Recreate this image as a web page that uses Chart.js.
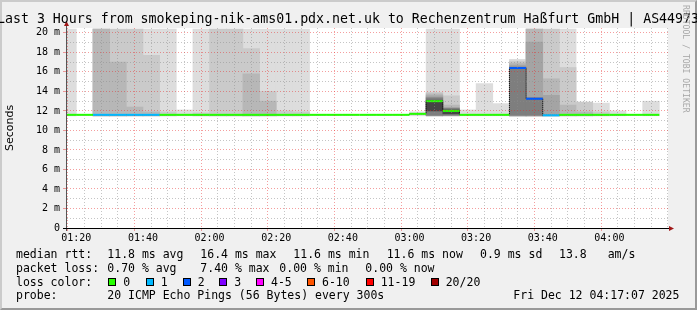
<!DOCTYPE html>
<html lang="en">
<head>
<meta charset="UTF-8">
<title>smokeping - Last 3 Hours</title>
<script src="https://cdn.jsdelivr.net/npm/chart.js@4.4.1/dist/chart.umd.min.js"></script>
<style>
    html, body {
        margin: 0;
        padding: 0;
    }
    body {
        position: relative;
        width: 697px;
        height: 310px;
        overflow: hidden;
        background: #f0f0f0;
        font-family: 'DejaVu Sans Mono', monospace;
        color: #000;
    }
    .frame {
        position: absolute;
        left: 0;
        top: 0;
        width: 697px;
        height: 310px;
        box-sizing: border-box;
        border: 2px solid;
        border-color: #cbcbcb #999 #999 #cbcbcb;
    }
    #chart {
        position: absolute;
        left: 0;
        top: 0;
    }
    .title {
        position: absolute;
        top: 10.5px;
        left: 348px;
        transform: translateX(-50%);
        white-space: nowrap;
        font-size: 13.25px;
        line-height: 16px;
    }
    .vendor {
        position: absolute;
        left: 690px;
        top: 5px;
        transform-origin: 0 0;
        transform: rotate(90deg);
        white-space: nowrap;
        font-size: 8.15px;
        line-height: 9px;
        color: #a8a8a8;
    }
    .leg {
        position: absolute;
        white-space: pre;
        font-size: 11.5px;
        line-height: 14px;
    }
    .box {
        position: absolute;
        width: 6px;
        height: 6px;
        border: 1px solid #000;
    }
</style>
</head>
<body>
<div class="frame"></div>
<canvas id="chart" width="697" height="310"></canvas>
<div class="title">Last 3 Hours from smokeping-nik-ams01.pdx.net.uk to Rechenzentrum Haßfurt GmbH | AS44973</div>
<div class="vendor">RRDTOOL / TOBI OETIKER</div>

<span class="leg" style="left:16px;top:247px">median rtt:</span>
<span class="leg" style="left:107.3px;top:247px">11.8 ms avg</span>
<span class="leg" style="left:200.3px;top:247px">16.4 ms max</span>
<span class="leg" style="left:293.3px;top:247px">11.6 ms min</span>
<span class="leg" style="left:386.7px;top:247px">11.6 ms now</span>
<span class="leg" style="left:480px;top:247px">0.9 ms sd</span>
<span class="leg" style="left:559px;top:247px">13.8</span>
<span class="leg" style="left:607.7px;top:247px">am/s</span>

<span class="leg" style="left:16px;top:260.7px">packet loss:</span>
<span class="leg" style="left:107.3px;top:260.7px">0.70 % avg</span>
<span class="leg" style="left:200.3px;top:260.7px">7.40 % max</span>
<span class="leg" style="left:279.3px;top:260.7px">0.00 % min</span>
<span class="leg" style="left:365.3px;top:260.7px">0.00 % now</span>

<span class="leg" style="left:16px;top:274.5px">loss color:</span>
<div id="losslegend"></div>

<span class="leg" style="left:16px;top:288.2px">probe:</span>
<span class="leg" style="left:107.3px;top:288.2px">20 ICMP Echo Pings (56 Bytes) every 300s</span>
<span class="leg" style="left:513.3px;top:288.2px">Fri Dec 12 04:17:07 2025</span>

<script>
    // 5 minute steps (start of each step)
    const slots = ['01:15', '01:20', '01:25', '01:30', '01:35', '01:40', '01:45', '01:50', '01:55',
                   '02:00', '02:05', '02:10', '02:15', '02:20', '02:25', '02:30', '02:35', '02:40',
                   '02:45', '02:50', '02:55', '03:00', '03:05', '03:10', '03:15', '03:20', '03:25',
                   '03:30', '03:35', '03:40', '03:45', '03:50', '03:55', '04:00', '04:05', '04:10'];

    // median rtt in ms
    const median = [11.6, 11.6, 11.6, 11.6, 11.6, 11.6, 11.6, 11.6, 11.6,
                    11.6, 11.6, 11.6, 11.6, 11.6, 11.6, 11.6, 11.6, 11.6,
                    11.6, 11.6, 11.6, 11.7, 13.0, 12.0, 11.6, 11.6, 11.6,
                    16.4, 13.25, 11.55, 11.6, 11.6, 11.6, 11.6, 11.6, 11.6];

    // lost pings out of 20
    const loss = [0, 0, 1, 1, 1, 1, 0, 0, 0,
                  0, 0, 0, 0, 0, 0, 0, 0, 0,
                  0, 0, 0, 0, 0, 0, 0, 0, 0,
                  2, 2, 1, 0, 0, 0, 0, 0, 0];

    // smoke: fastest ping, then top of each grey band (outer -> inner)
    const smokeFloor = 11.5;
    const smoke1 = [20.4, null, 20.4, 20.4, 20.4, 20.4, 20.4, 12.1, 20.4,
                    20.4, 20.4, 20.4, 20.4, 20.4, 20.4, null, null, null,
                    null, null, null, 11.9, 20.4, 20.4, 12.1, 14.8, 12.75,
                    17.3, 20.4, 20.4, 20.4, 12.9, 12.8, 12.0, null, 13.0];
    const smoke2 = [null, null, 20.4, 20.4, 20.4, 17.7, 11.9, null, 11.8,
                    20.4, 20.4, 18.4, 14.0, 12.0, 11.9, null, null, null,
                    null, null, null, null, 13.9, 13.55, null, null, null,
                    17.1, 20.4, 20.4, 16.45, 12.9, 11.9, null, null, null];
    const smoke3 = [null, null, 20.4, 17.0, 12.4, 11.9, null, null, null,
                    null, null, 15.8, 13.0, null, null, null, null, null,
                    null, null, null, null, 13.75, 12.6, null, null, null,
                    16.9, 20.4, 15.3, 12.6, 11.9, null, null, null, null];
    const smoke4 = [null, null, null, null, null, null, null, null, null,
                    null, null, null, null, null, null, null, null, null,
                    null, null, null, null, 13.55, null, null, null, null,
                    16.7, 19.05, 13.6, null, null, null, null, null, null];
    // dark inner bands around the median (low / high)
    const darkLow  = {22: 11.55, 23: 11.55, 27: 11.55, 28: 11.55};
    const darkHigh = {22: 13.35, 23: 12.3, 27: 16.5, 28: 13.35};
    const coreLow  = {22: 12.0, 23: 11.7};
    const coreHigh = {22: 13.1, 23: 12.1};

    const lossLabels = ['0', '1', '2', '3', '4-5', '6-10', '11-19', '20/20'];
    const lossColors = ['#26ff00', '#00b8ff', '#0059ff', '#7e00ff', '#ff00ff', '#ff5500', '#ff0000', '#a10000'];
    const lossBoxX = [108.3, 145.7, 182.7, 219.3, 256, 307, 365.7, 430.7];

    const MAJOR = 'rgba(230, 40, 40, 0.45)';
    const MINOR = 'rgba(140, 140, 140, 0.5)';

    const toMin = s => Number(s.slice(0, 2)) * 60 + Number(s.slice(3));
    const fmt = v => String(Math.floor(v / 60)).padStart(2, '0') + ':' + String(v % 60).padStart(2, '0');

    function lossColor(n) {
        if (n <= 3) return lossColors[n];
        if (n <= 5) return lossColors[4];
        if (n <= 10) return lossColors[5];
        if (n <= 19) return lossColors[6];
        return lossColors[7];
    }

    // legend for loss colours
    const lossLegend = document.getElementById('losslegend');
    lossLabels.forEach((label, i) => {
        const box = document.createElement('div');
        box.className = 'box';
        box.style.left = lossBoxX[i] + 'px';
        box.style.top = '278.3px';
        box.style.background = lossColors[i];
        lossLegend.appendChild(box);
        const txt = document.createElement('span');
        txt.className = 'leg';
        txt.style.left = (lossBoxX[i] + 15) + 'px';
        txt.style.top = '274.5px';
        txt.textContent = label;
        lossLegend.appendChild(txt);
    });

    function band(lows, highs, color, order) {
        const pts = [];
        slots.forEach((s, i) => {
            if (highs[i] == null) return;
            const lo = lows ? lows[i] : smokeFloor;
            pts.push({x: toMin(s) + 2.5, y: [lo, highs[i]]});
        });
        return {
            type: 'bar',
            data: pts,
            backgroundColor: color,
            borderWidth: 0,
            grouped: false,
            barPercentage: 1,
            categoryPercentage: 1,
            order: order
        };
    }

    // median drawn as separate horizontal pieces, coloured by loss
    const medianPts = [];
    slots.forEach((s, i) => {
        const t = toMin(s);
        medianPts.push({x: t, y: median[i]}, {x: t + 5, y: median[i]}, {x: t + 5, y: null});
    });
    // thin dotted step line joining the medians
    const stepPts = slots.map((s, i) => ({x: toMin(s), y: median[i]}));
    stepPts.push({x: toMin(slots[slots.length - 1]) + 5, y: median[median.length - 1]});

    const axisPlugin = {
        id: 'axisPlugin',
        beforeDraw(chart) {
            const {ctx, chartArea: a} = chart;
            ctx.save();
            ctx.fillStyle = '#fff';
            ctx.fillRect(a.left, a.top, a.right - a.left, a.bottom - a.top);
            ctx.restore();
        },
        afterDraw(chart) {
            const {ctx, chartArea: a} = chart;
            ctx.save();
            ctx.lineWidth = 1;
            ctx.strokeStyle = '#555';
            ctx.beginPath();
            ctx.moveTo(a.left - 0.5, a.bottom + 3);
            ctx.lineTo(a.left - 0.5, a.top - 4);
            ctx.stroke();
            ctx.strokeStyle = '#000';
            ctx.beginPath();
            ctx.moveTo(a.left - 4, a.bottom + 0.5);
            ctx.lineTo(a.right + 2, a.bottom + 0.5);
            ctx.stroke();
            ctx.fillStyle = '#a01818';
            ctx.beginPath();
            ctx.moveTo(a.left - 3, a.top - 2);
            ctx.lineTo(a.left + 2, a.top - 2);
            ctx.lineTo(a.left - 0.5, a.top - 7);
            ctx.closePath();
            ctx.fill();
            ctx.beginPath();
            ctx.moveTo(a.right + 1, a.bottom - 2);
            ctx.lineTo(a.right + 1, a.bottom + 3);
            ctx.lineTo(a.right + 6, a.bottom + 0.5);
            ctx.closePath();
            ctx.fill();
            ctx.restore();
        }
    };

    const tickFont = {family: 'DejaVu Sans Mono', size: 10};

    new Chart(document.getElementById('chart'), {
        type: 'bar',
        data: {
            datasets: [
                {
                    type: 'line',
                    data: medianPts,
                    borderColor: lossColors[0],
                    borderWidth: 2,
                    borderCapStyle: 'butt',
                    pointRadius: 0,
                    spanGaps: false,
                    segment: {
                        borderColor: c => lossColor(loss[Math.floor(c.p0DataIndex / 3)])
                    },
                    order: 0
                },
                {
                    type: 'line',
                    data: stepPts,
                    stepped: 'before',
                    borderColor: '#000',
                    borderWidth: 1,
                    borderDash: [1, 1],
                    pointRadius: 0,
                    order: 1
                },
                band(coreLow, coreHigh, '#454545', 2),
                band(darkLow, darkHigh, '#7e7e7e', 3),
                band(null, smoke4, '#a4a4a4', 4),
                band(null, smoke3, '#b7b7b7', 5),
                band(null, smoke2, '#cacaca', 6),
                band(null, smoke1, '#dddddd', 7)
            ]
        },
        options: {
            responsive: false,
            devicePixelRatio: 1,
            animation: false,
            events: [],
            layout: {
                padding: {left: 0, right: 29, top: 28, bottom: 62}
            },
            plugins: {
                legend: {display: false},
                tooltip: {enabled: false}
            },
            scales: {
                x: {
                    type: 'linear',
                    min: 77.2,
                    max: 257.6,
                    offset: false,
                    afterFit: s => { s.height = 20; },
                    ticks: {
                        stepSize: 5,
                        maxTicksLimit: 100,
                        autoSkip: false,
                        includeBounds: false,
                        maxRotation: 0,
                        padding: 1,
                        color: '#000',
                        font: tickFont,
                        callback: v => v % 20 === 0 ? fmt(v) : ''
                    },
                    grid: {
                        z: 1,
                        lineWidth: 1,
                        color: c => (c.tick && c.tick.value % 20 === 0) ? MAJOR : MINOR,
                        tickLength: 3,
                        tickColor: c => (c.tick && c.tick.value % 20 === 0) ? MAJOR : 'rgba(0,0,0,0)'
                    },
                    border: {display: false, dash: [1, 2]}
                },
                y: {
                    type: 'linear',
                    min: 0,
                    max: 20.5,
                    afterFit: s => { s.width = 67; },
                    title: {
                        display: true,
                        text: 'Seconds',
                        color: '#000',
                        font: {family: 'DejaVu Sans', size: 11},
                        padding: {top: 4, bottom: 0}
                    },
                    ticks: {
                        stepSize: 1,
                        maxTicksLimit: 100,
                        autoSkip: false,
                        includeBounds: false,
                        padding: 3,
                        color: '#000',
                        font: tickFont,
                        callback: v => v % 2 === 0 ? (v === 0 ? '0' : v + ' m') : ''
                    },
                    grid: {
                        z: 1,
                        lineWidth: 1,
                        color: c => (c.tick && c.tick.value % 2 === 0) ? MAJOR : MINOR,
                        tickLength: 4,
                        tickColor: c => (c.tick && c.tick.value % 2 === 0) ? MAJOR : 'rgba(0,0,0,0)'
                    },
                    border: {display: false, dash: [1, 2]}
                }
            }
        },
        plugins: [axisPlugin]
    });
</script>
</body>
</html>
